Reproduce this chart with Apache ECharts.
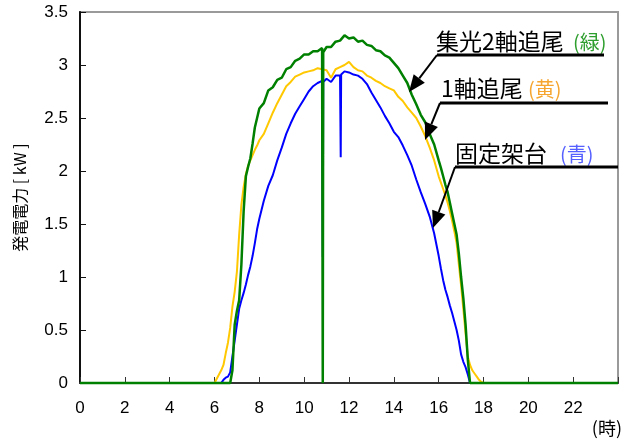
<!DOCTYPE html>
<html><head><meta charset="utf-8">
<script src="https://cdn.jsdelivr.net/npm/echarts@6/dist/echarts.min.js"></script>
<style>html,body{margin:0;padding:0;background:#fff}#c{width:626px;height:445px}</style>
</head><body><div id="c"></div>
<script>
// time of day (hours)
const hours = [0,
 6.0,6.1,6.2,6.3,6.4,6.5,6.6,6.7,6.8,6.9,7.0,7.1,7.2,7.3,7.4,7.5,7.6,7.7,7.8,7.9,8.0,
 8.2,8.4,8.6,8.8,9.0,9.2,9.4,9.6,9.8,10.0,10.2,10.4,10.6,10.8,
 10.83,10.85,
 11.0,11.2,11.4,11.6,
 11.63,11.65,
 11.8,12.0,12.2,12.4,12.6,12.8,13.0,13.2,13.4,13.6,13.8,14.0,14.2,14.4,14.6,14.8,15.0,15.2,15.4,15.6,15.8,16.0,
 16.1,16.2,16.3,16.4,16.5,16.6,16.7,16.8,16.9,17.0,17.1,17.2,17.3,17.4,17.5,17.6,17.7,17.8,17.9,18.0,
 24];
// 集光2軸追尾 (green)
const green = [0,
 0,0,0,0,0,0,0,0,0.12,0.55,0.68,0.78,1.12,1.62,1.95,2.04,2.12,2.26,2.41,2.5,2.59,
 2.64,2.76,2.79,2.86,2.88,2.96,2.98,3.04,3.06,3.1,3.1,3.13,3.13,3.16,
 0,3.12,
 3.17,3.17,3.22,3.23,
 3.24,3.22,
 3.28,3.25,3.26,3.22,3.23,3.19,3.18,3.14,3.13,3.09,3.07,3.02,2.97,2.9,2.83,2.72,2.63,2.53,2.46,2.35,2.25,2.1,
 2.03,1.95,1.87,1.8,1.7,1.6,1.5,1.4,1.22,1.0,0.8,0.55,0.22,0,0,0,0,0,0,0,
 0];
// 1軸追尾 (yellow)
const yellow = [0,
 0,0.04,0.08,0.12,0.17,0.28,0.38,0.52,0.72,0.86,1.05,1.4,1.68,1.85,1.97,2.05,2.1,2.15,2.2,2.24,2.29,
 2.35,2.45,2.55,2.64,2.72,2.8,2.84,2.89,2.91,2.93,2.94,2.95,2.97,2.96,
 2.96,2.95,
 2.95,2.88,2.96,2.98,
 2.99,2.98,
 3.0,3.03,2.98,2.95,2.94,2.9,2.88,2.85,2.83,2.8,2.78,2.76,2.7,2.66,2.6,2.55,2.5,2.42,2.33,2.22,2.1,1.95,
 1.89,1.83,1.77,1.7,1.62,1.53,1.43,1.32,1.12,0.92,0.7,0.47,0.25,0.17,0.12,0.09,0.06,0.03,0.01,0,
 0];
// 固定架台 (blue)
const blue = [0,
 0,0,0,0,0.03,0.05,0.06,0.1,0.25,0.4,0.55,0.7,0.78,0.85,0.93,1.02,1.1,1.2,1.32,1.45,1.55,
 1.72,1.86,1.96,2.1,2.22,2.35,2.45,2.54,2.61,2.68,2.75,2.8,2.83,2.85,
 1.19,2.84,
 2.87,2.84,2.9,2.9,
 2.13,2.91,
 2.94,2.93,2.91,2.9,2.87,2.82,2.74,2.67,2.6,2.52,2.45,2.37,2.32,2.24,2.15,2.05,1.92,1.8,1.69,1.57,1.41,1.2,
 1.08,0.97,0.88,0.81,0.73,0.66,0.58,0.5,0.4,0.27,0.2,0.15,0.08,0,0,0,0,0,0,0,
 0];

const xTicks = [0,2,4,6,8,10,12,14,16,18,20,22];
const yTicks = [0,0.5,1,1.5,2,2.5,3,3.5];

const pair = arr => hours.map((h,i)=>[h, arr[i]]);
const LAT = '"Liberation Sans", Arial, sans-serif';
const CJK = '"Noto Sans CJK JP", "Noto Sans", sans-serif';

const chart = echarts.init(document.getElementById('c'), null, {renderer:'canvas'});

function arrow(x1,y1,x2,y2){
  const dx=x2-x1, dy=y2-y1, L=Math.hypot(dx,dy), ux=dx/L, uy=dy/L;
  const hl=17, hw=7;
  const bx=x2-ux*hl, by=y2-uy*hl;
  return [
    {type:'line', shape:{x1:x1,y1:y1,x2:bx,y2:by}, style:{stroke:'#000', lineWidth:2}, z:100},
    {type:'polygon', shape:{points:[[x2,y2],[bx-uy*hw,by+ux*hw],[bx+uy*hw,by-ux*hw]]}, style:{fill:'#000'}, z:100}
  ];
}

const graphics = [].concat(
  [{type:'text', style:{text:'集光2軸追尾', x:436, y:41, font:'23px '+CJK, fill:'#000', textVerticalAlign:'middle'}, z:100},
   {type:'text', style:{text:'(緑)', x:573, y:42, font:'20px '+CJK, fill:'#2e9e2e', textVerticalAlign:'middle'}, z:100},
   {type:'line', shape:{x1:437,y1:55,x2:604,y2:55}, style:{stroke:'#000', lineWidth:3}, z:100}],
  arrow(437,55,409,92),
  [{type:'text', style:{text:'1軸追尾', x:441, y:88, font:'23px '+CJK, fill:'#000', textVerticalAlign:'middle'}, z:100},
   {type:'text', style:{text:'(黄)', x:528, y:89, font:'20px '+CJK, fill:'#f5a530', textVerticalAlign:'middle'}, z:100},
   {type:'line', shape:{x1:440,y1:103,x2:608,y2:103}, style:{stroke:'#000', lineWidth:3}, z:100}],
  arrow(440,103,425,140),
  [{type:'text', style:{text:'固定架台', x:455, y:153, font:'23px '+CJK, fill:'#000', textVerticalAlign:'middle'}, z:100},
   {type:'text', style:{text:'(青)', x:560, y:154, font:'20px '+CJK, fill:'#5560ff', textVerticalAlign:'middle'}, z:100},
   {type:'line', shape:{x1:455,y1:167,x2:618,y2:167}, style:{stroke:'#000', lineWidth:3}, z:100}],
  arrow(455,167,433,228),
  [{type:'text', style:{text:'(時)', x:622, y:428, font:'18px '+CJK, fill:'#000', textAlign:'right', textVerticalAlign:'middle'}, z:100}]
);

chart.setOption({
  animation:false,
  backgroundColor:'#fff',
  grid:{left:80, right:8, top:12, bottom:62, show:true, borderColor:'#9a9a9a', borderWidth:2, containLabel:false},
  xAxis:{type:'value', min:0, max:24, interval:2,
    axisLine:{show:true, onZero:false, lineStyle:{color:'#333', width:2}},
    axisTick:{show:true, inside:true, length:6, lineStyle:{color:'#333', width:1}},
    axisLabel:{margin:17, fontSize:17, color:'#000', fontFamily:LAT,
      formatter:v=> xTicks.includes(v) ? String(v) : ''},
    splitLine:{show:false}},
  yAxis:{type:'value', min:0, max:3.5, interval:0.5,
    name:'発電電力 [ kW ]', nameLocation:'middle', nameGap:52, nameRotate:90,
    nameTextStyle:{fontSize:16, color:'#000', fontFamily:CJK},
    axisLine:{show:true, lineStyle:{color:'#111', width:2}},
    axisTick:{show:true, inside:true, length:6, lineStyle:{color:'#111', width:1}},
    axisLabel:{margin:12, fontSize:17, color:'#000', fontFamily:LAT, padding:[5,0,0,0],
      formatter:v=> yTicks.includes(v) ? String(v) : ''},
    splitLine:{show:false}},
  series:[
    {name:'1軸追尾', type:'line', data:pair(yellow), showSymbol:false, clip:false,
      lineStyle:{color:'#ffc800', width:2}, z:2},
    {name:'固定架台', type:'line', data:pair(blue), showSymbol:false, clip:false,
      lineStyle:{color:'#0000ff', width:2}, z:3},
    {name:'集光2軸追尾', type:'line', data:pair(green), showSymbol:false, clip:false,
      lineStyle:{color:'#008000', width:2.5}, z:4}
  ],
  graphic: graphics
});
</script></body></html>
